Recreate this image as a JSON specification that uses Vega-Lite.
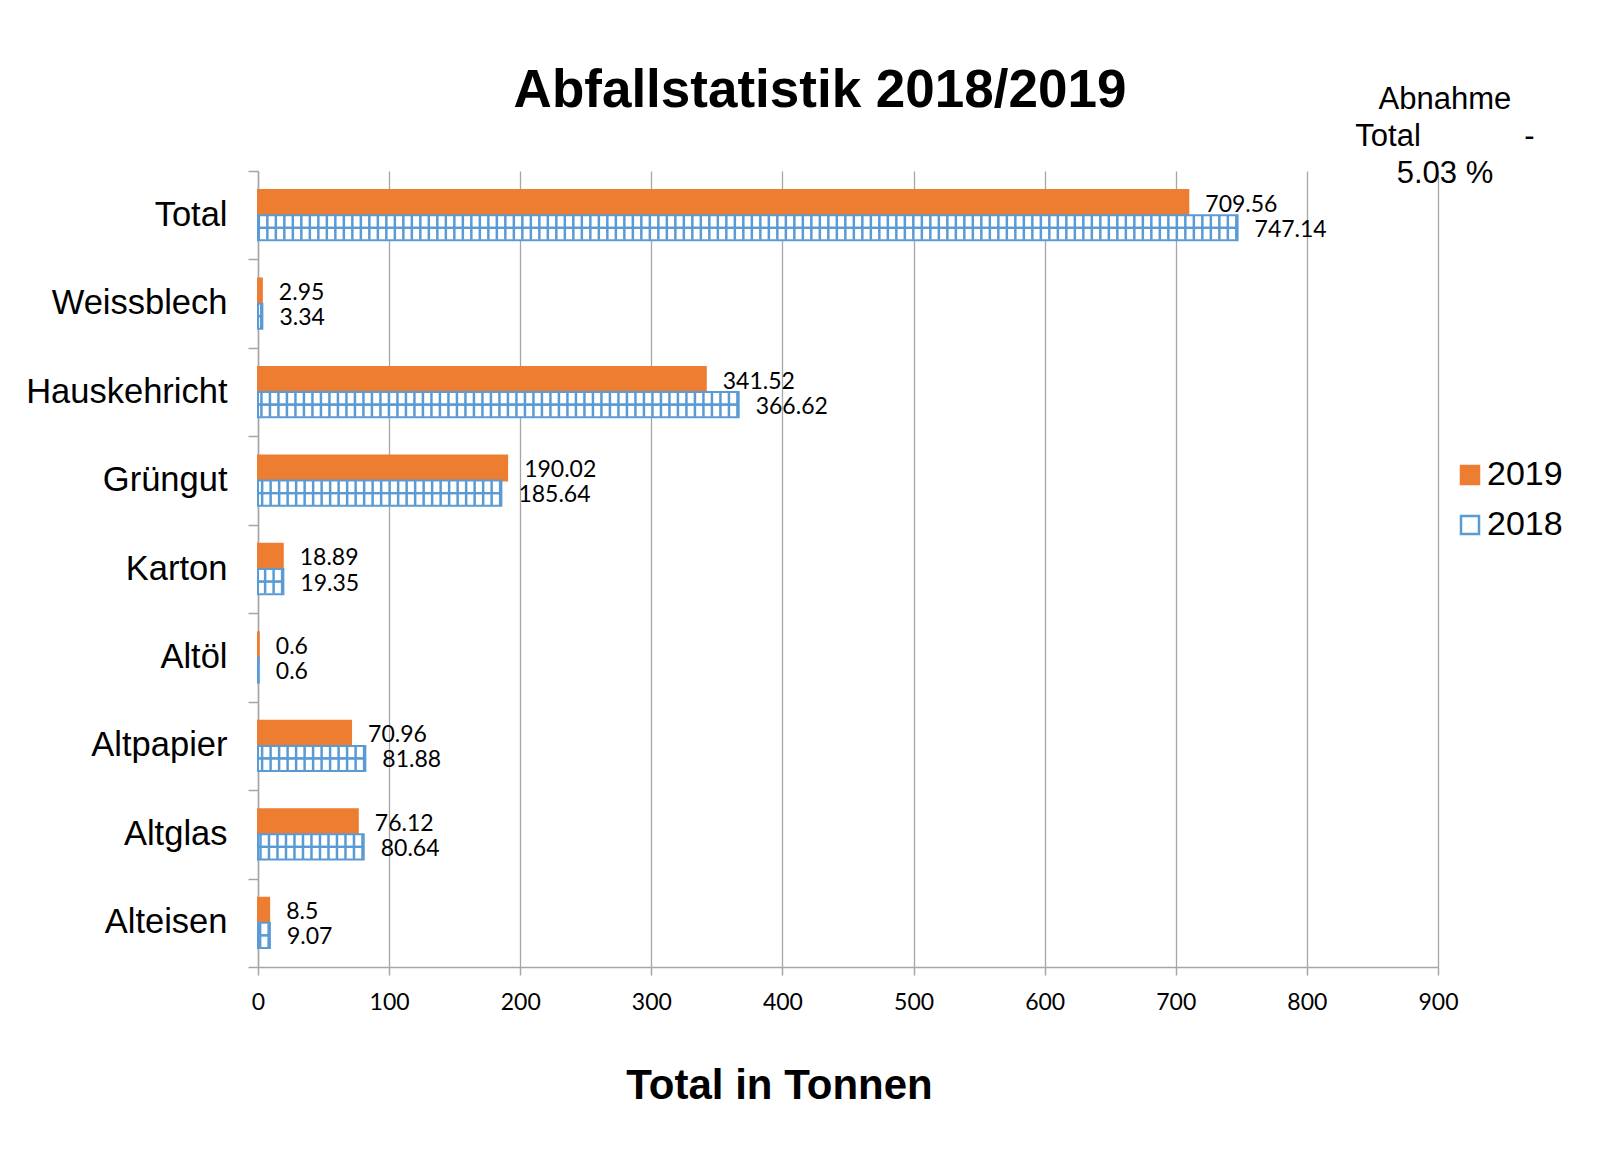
{
  "$schema": "https://vega.github.io/schema/vega-lite/v6.json",
  "width": 1180,
  "height": 796,
  "autosize": {"type": "none"},
  "padding": {"left": 258, "top": 171, "right": 163, "bottom": 199},
  "background": "white",
  "config": {
    "font": "Liberation Sans",
    "view": {"stroke": null}
  },
  "title": {
    "text": "Abfallstatistik 2018/2019",
    "font": "Liberation Sans",
    "fontSize": 53,
    "fontWeight": "bold",
    "color": "black",
    "anchor": "middle",
    "frame": "group",
    "baseline": "alphabetic",
    "offset": -76,
    "dx": -28
  },
  "layer": [
    {
      "data": {
        "values": [
          {"kategorie": "Total", "jahr": "2019", "tonnen": 709.56},
          {"kategorie": "Total", "jahr": "2018", "tonnen": 747.14},
          {"kategorie": "Weissblech", "jahr": "2019", "tonnen": 2.95},
          {"kategorie": "Weissblech", "jahr": "2018", "tonnen": 3.34},
          {"kategorie": "Hauskehricht", "jahr": "2019", "tonnen": 341.52},
          {"kategorie": "Hauskehricht", "jahr": "2018", "tonnen": 366.62},
          {"kategorie": "Grüngut", "jahr": "2019", "tonnen": 190.02},
          {"kategorie": "Grüngut", "jahr": "2018", "tonnen": 185.64},
          {"kategorie": "Karton", "jahr": "2019", "tonnen": 18.89},
          {"kategorie": "Karton", "jahr": "2018", "tonnen": 19.35},
          {"kategorie": "Altöl", "jahr": "2019", "tonnen": 0.6},
          {"kategorie": "Altöl", "jahr": "2018", "tonnen": 0.6},
          {"kategorie": "Altpapier", "jahr": "2019", "tonnen": 70.96},
          {"kategorie": "Altpapier", "jahr": "2018", "tonnen": 81.88},
          {"kategorie": "Altglas", "jahr": "2019", "tonnen": 76.12},
          {"kategorie": "Altglas", "jahr": "2018", "tonnen": 80.64},
          {"kategorie": "Alteisen", "jahr": "2019", "tonnen": 8.5},
          {"kategorie": "Alteisen", "jahr": "2018", "tonnen": 9.07}
        ]
      },
      "encoding": {
        "y": {
          "field": "kategorie",
          "type": "nominal",
          "sort": ["Total", "Weissblech", "Hauskehricht", "Grüngut", "Karton", "Altöl", "Altpapier", "Altglas", "Alteisen"],
          "scale": {"paddingInner": 0, "paddingOuter": 0},
          "axis": {
            "title": null,
            "tickBand": "extent",
            "domainColor": "#a6a6a6",
            "domainWidth": 1.5,
            "tickColor": "#a6a6a6",
            "tickWidth": 1.5,
            "tickSize": 10,
            "labelFont": "Liberation Sans",
            "labelFontSize": 34.5,
            "labelColor": "black",
            "labelPadding": 21,
            "labelLimit": 500,
            "grid": false
          }
        },
        "yOffset": {
          "field": "jahr",
          "type": "nominal",
          "sort": ["2019", "2018"],
          "scale": {"paddingInner": 0, "paddingOuter": 0.76}
        },
        "x": {
          "field": "tonnen",
          "type": "quantitative",
          "scale": {"domain": [0, 900], "nice": false},
          "axis": {
            "values": [0, 100, 200, 300, 400, 500, 600, 700, 800, 900],
            "grid": true,
            "gridColor": "#a6a6a6",
            "gridWidth": 1.3,
            "domainColor": "#a6a6a6",
            "domainWidth": 1.5,
            "tickColor": "#a6a6a6",
            "tickWidth": 1.5,
            "tickSize": 8,
            "labelFont": "Lato",
            "labelFontSize": 23,
            "labelColor": "black",
            "labelPadding": 16,
            "labelFlush": false,
            "title": "Total in Tonnen",
            "titleFont": "Liberation Sans",
            "titleFontSize": 42,
            "titleFontWeight": "bold",
            "titleColor": "black",
            "titleX": 521,
            "titleY": 131,
            "titleAlign": "center",
            "titleBaseline": "alphabetic",
            "titleAnchor": null
          }
        }
      },
      "layer": [
        {
          "mark": {"type": "bar", "strokeWidth": 2},
          "encoding": {
            "fill": {
              "field": "jahr",
              "type": "nominal",
              "sort": ["2019", "2018"],
              "scale": {"domain": ["2019", "2018"], "range": ["#ed7d31", "#ffffff"]},
              "legend": {
                "title": null,
                "orient": "none",
                "legendX": 1195,
                "legendY": 287,
                "padding": 0,
                "symbolType": "square",
                "symbolSize": 324,
                "symbolStrokeWidth": 2.5,
                "labelFont": "Liberation Sans",
                "labelFontSize": 34,
                "labelColor": "black",
                "labelOffset": 0,
                "rowPadding": 16
              }
            },
            "stroke": {
              "field": "jahr",
              "type": "nominal",
              "sort": ["2019", "2018"],
              "scale": {"domain": ["2019", "2018"], "range": ["#ed7d31", "#5b9bd5"]}
            }
          }
        },
        {
          "transform": [{"filter": "datum.jahr === '2018'"}],
          "mark": {"type": "rule", "color": "#5b9bd5", "strokeWidth": 24, "strokeDash": [2.5, 6], "strokeCap": "butt"},
          "encoding": {
            "x2": {"datum": 0}
          }
        },
        {
          "transform": [{"filter": "datum.jahr === '2018'"}],
          "mark": {"type": "rule", "color": "#5b9bd5", "strokeWidth": 2.2, "yOffset": -4},
          "encoding": {
            "x2": {"datum": 0}
          }
        },
        {
          "transform": [{"filter": "datum.jahr === '2018'"}],
          "mark": {"type": "rule", "color": "#5b9bd5", "strokeWidth": 2.2, "yOffset": 4},
          "encoding": {
            "x2": {"datum": 0}
          }
        },
        {
          "mark": {"type": "text", "align": "left", "baseline": "middle", "dx": 17, "dy": 2, "font": "Lato", "fontSize": 23, "fill": "black"},
          "encoding": {
            "text": {"field": "tonnen", "type": "quantitative"}
          }
        }
      ]
    },
    {
      "data": {"values": [{"notiz": ["Abnahme", "Total\u00a0\u00a0\u00a0\u00a0\u00a0\u00a0\u00a0\u00a0\u00a0\u00a0\u00a0\u00a0-", "5.03 %"]}]},
      "mark": {"type": "text", "align": "center", "baseline": "alphabetic", "font": "Liberation Sans", "fontSize": 31, "lineHeight": 37, "fill": "black", "dy": -106},
      "encoding": {
        "text": {"field": "notiz", "type": "nominal"},
        "x": {"datum": 905.3, "type": "quantitative"},
        "y": {"datum": "Total", "type": "nominal"}
      }
    }
  ]
}
